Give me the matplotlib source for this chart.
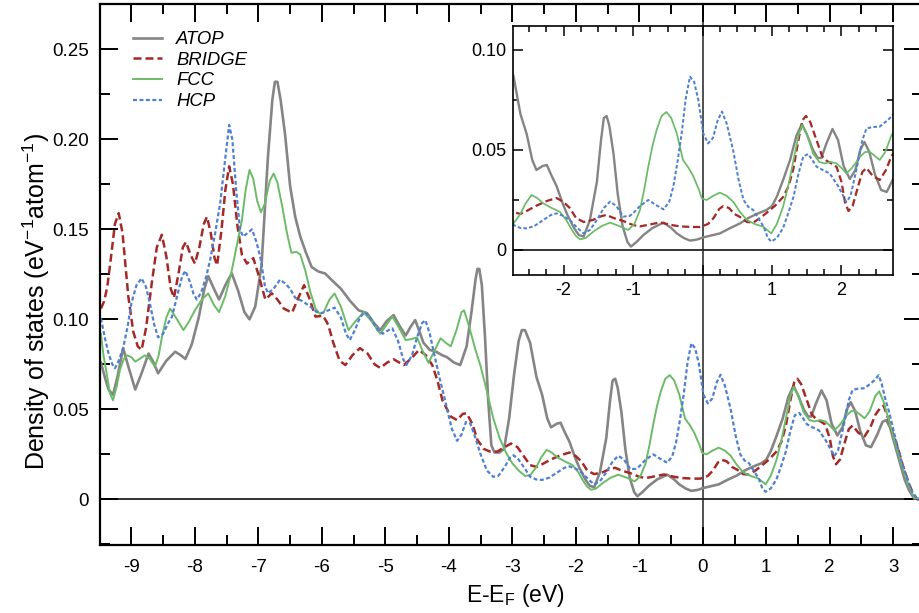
import matplotlib
matplotlib.use("Agg")
import matplotlib.pyplot as plt
from matplotlib.ticker import MultipleLocator, FixedLocator

plt.rcParams['font.family'] = ['Liberation Sans', 'DejaVu Sans']
plt.rcParams['axes.unicode_minus'] = False

# ---- data (energy in eV, DOS in 1/(eV atom)) ----
atop_e = [-9.48, -9.42, -9.36, -9.29, -9.22, -9.13, -9.05, -8.94, -8.84, -8.73, -8.65, -8.58,
          -8.45, -8.31, -8.22, -8.15, -8.05, -7.94, -7.85, -7.79, -7.70, -7.62, -7.52, -7.42,
          -7.32, -7.22, -7.14, -7.05, -6.95, -6.85, -6.78, -6.74, -6.70, -6.65, -6.58, -6.50, -6.42,
          -6.34, -6.25, -6.16, -6.05, -5.95, -5.82, -5.70, -5.55, -5.42, -5.29, -5.18, -5.08,
          -4.98, -4.87, -4.77, -4.68, -4.60, -4.53, -4.46, -4.40, -4.30, -4.20, -4.10, -4.03,
          -3.92, -3.82, -3.72, -3.64, -3.58, -3.55, -3.52, -3.48, -3.43, -3.38, -3.33, -3.28, -3.20,
          -3.13, -3.05, -2.97, -2.90, -2.85, -2.80, -2.72, -2.62, -2.53, -2.45, -2.39, -2.30, -2.24,
          -2.17, -2.10, -2.02, -1.95, -1.85, -1.78, -1.71, -1.62, -1.52, -1.46, -1.42, -1.38, -1.34,
          -1.28, -1.22, -1.15, -1.08, -1.03, -0.95, -0.85, -0.72, -0.56, -0.45, -0.37, -0.27,
          -0.18, -0.08, 0.01, 0.12, 0.25, 0.40, 0.54, 0.66, 0.78, 0.92, 1.00, 1.07,
          1.16, 1.26, 1.35, 1.43, 1.50, 1.59, 1.66, 1.71, 1.78, 1.87, 1.95, 2.03,
          2.12, 2.20, 2.27, 2.33, 2.40, 2.48, 2.57, 2.65, 2.75, 2.83, 2.89, 2.95,
          3.02, 3.10, 3.18, 3.25, 3.33, 3.45]
atop_dos = [0.076, 0.068, 0.061, 0.058, 0.068, 0.084, 0.074, 0.061, 0.070, 0.081, 0.076, 0.070,
            0.077, 0.082, 0.080, 0.078, 0.086, 0.101, 0.117, 0.124, 0.117, 0.111, 0.119, 0.1256,
            0.116, 0.104, 0.100, 0.107, 0.130, 0.190, 0.222, 0.232, 0.232, 0.222, 0.203, 0.174, 0.157,
            0.146, 0.137, 0.129, 0.1265, 0.1255, 0.121, 0.117, 0.110, 0.105, 0.1035, 0.098, 0.094,
            0.099, 0.1024, 0.096, 0.091, 0.096, 0.0996, 0.093, 0.087, 0.083, 0.082, 0.080, 0.079,
            0.076, 0.0746, 0.085, 0.105, 0.122, 0.128, 0.128, 0.119, 0.090, 0.055, 0.030, 0.026, 0.026,
            0.028, 0.045, 0.070, 0.088, 0.094, 0.094, 0.087, 0.068, 0.058, 0.045, 0.040, 0.042, 0.0425,
            0.037, 0.032, 0.024, 0.018, 0.011, 0.0075, 0.0067, 0.015, 0.034, 0.055, 0.066, 0.067, 0.062,
            0.048, 0.028, 0.012, 0.004, 0.0017, 0.004, 0.0075, 0.011, 0.0137, 0.011, 0.0083, 0.006,
            0.0047, 0.0052, 0.0063, 0.0072, 0.0083, 0.011, 0.0133, 0.016, 0.018, 0.020, 0.022, 0.0267,
            0.035, 0.045, 0.057, 0.063, 0.058, 0.050, 0.046, 0.046, 0.053, 0.0605, 0.055, 0.042,
            0.0355, 0.040, 0.050, 0.054, 0.049, 0.038, 0.030, 0.029, 0.036, 0.043, 0.044, 0.040,
            0.031, 0.021, 0.011, 0.005, 0.0005, 0.0]

bridge_e = [-9.48, -9.43, -9.38, -9.32, -9.26, -9.20, -9.14, -9.05, -8.97, -8.90, -8.84, -8.77,
            -8.68, -8.60, -8.52, -8.45, -8.38, -8.33, -8.26, -8.19, -8.14, -8.07, -8.00, -7.93,
            -7.86, -7.81, -7.75, -7.69, -7.65, -7.58, -7.52, -7.46, -7.40, -7.33, -7.26, -7.18,
            -7.08, -7.00, -6.89, -6.79, -6.70, -6.60, -6.47, -6.37, -6.28, -6.20, -6.10, -5.98,
            -5.90, -5.82, -5.72, -5.63, -5.52, -5.40, -5.28, -5.17, -5.08, -4.97, -4.87, -4.78,
            -4.71, -4.60, -4.47, -4.36, -4.26, -4.18, -4.10, -3.97, -3.87, -3.78, -3.72, -3.63,
            -3.55, -3.45, -3.35, -3.24, -3.12, -3.02, -2.92, -2.82, -2.72, -2.62, -2.53, -2.40,
            -2.24, -2.10, -2.00, -1.91, -1.82, -1.71, -1.58, -1.45, -1.38, -1.28, -1.14, -1.00,
            -0.90, -0.75, -0.61, -0.45, -0.32, -0.15, -0.04, 0.08, 0.16, 0.24, 0.30, 0.38,
            0.46, 0.54, 0.64, 0.73, 0.83, 0.92, 1.04, 1.16, 1.24, 1.31, 1.38, 1.44,
            1.49, 1.55, 1.64, 1.72, 1.79, 1.87, 1.93, 2.00, 2.05, 2.10, 2.16, 2.24,
            2.30, 2.36, 2.45, 2.55, 2.64, 2.72, 2.80, 2.85, 2.92, 3.00, 3.07, 3.15,
            3.23, 3.30, 3.38, 3.45]
bridge_dos = [0.106, 0.110, 0.118, 0.135, 0.153, 0.159, 0.148, 0.113, 0.093, 0.085, 0.083, 0.095,
              0.120, 0.140, 0.147, 0.135, 0.117, 0.112, 0.125, 0.140, 0.143, 0.136, 0.131, 0.140,
              0.153, 0.157, 0.148, 0.134, 0.130, 0.150, 0.172, 0.185, 0.175, 0.152, 0.136, 0.131,
              0.134, 0.125, 0.111, 0.1145, 0.111, 0.106, 0.1037, 0.112, 0.119, 0.112, 0.1015, 0.102,
              0.097, 0.087, 0.077, 0.0746, 0.080, 0.084, 0.081, 0.075, 0.073, 0.076, 0.0778, 0.076,
              0.0746, 0.078, 0.083, 0.080, 0.0745, 0.066, 0.055, 0.046, 0.044, 0.0475, 0.0478, 0.042,
              0.033, 0.028, 0.0265, 0.0265, 0.029, 0.031, 0.029, 0.024, 0.019, 0.018, 0.0195, 0.022,
              0.0245, 0.026, 0.024, 0.021, 0.016, 0.014, 0.015, 0.017, 0.0175, 0.016, 0.0145, 0.0125,
              0.0118, 0.0128, 0.0138, 0.0125, 0.0118, 0.0115, 0.0115, 0.013, 0.016, 0.0205, 0.022, 0.021,
              0.018, 0.0165, 0.014, 0.0137, 0.016, 0.0185, 0.022, 0.0265, 0.032, 0.041, 0.055, 0.065,
              0.067, 0.064, 0.055, 0.047, 0.0445, 0.043, 0.0415, 0.034, 0.024, 0.0195, 0.022, 0.032,
              0.039, 0.041, 0.037, 0.035, 0.040, 0.047, 0.051, 0.052, 0.045, 0.036, 0.029, 0.019,
              0.0105, 0.004, 0.0, 0.0]

fcc_e = [-9.48, -9.44, -9.39, -9.34, -9.29, -9.23, -9.18, -9.12, -9.07, -9.00, -8.94, -8.87,
         -8.79, -8.71, -8.63, -8.57, -8.52, -8.45, -8.39, -8.30, -8.18, -8.09, -8.00, -7.89,
         -7.79, -7.70, -7.62, -7.52, -7.42, -7.34, -7.26, -7.20, -7.14, -7.08, -7.02, -6.96,
         -6.90, -6.82, -6.76, -6.70, -6.62, -6.55, -6.48, -6.40, -6.34, -6.26, -6.18, -6.10,
         -6.03, -5.97, -5.88, -5.80, -5.70, -5.58, -5.47, -5.34, -5.22, -5.08, -4.98, -4.89,
         -4.78, -4.68, -4.59, -4.50, -4.42, -4.32, -4.22, -4.13, -4.05, -3.97, -3.88, -3.80,
         -3.76, -3.68, -3.58, -3.50, -3.40, -3.30, -3.20, -3.10, -3.00, -2.90, -2.80, -2.72,
         -2.62, -2.55, -2.46, -2.38, -2.29, -2.17, -2.05, -1.96, -1.88, -1.82, -1.76, -1.68,
         -1.57, -1.45, -1.33, -1.20, -1.07, -0.98, -0.90, -0.84, -0.78, -0.72, -0.66, -0.59,
         -0.52, -0.45, -0.37, -0.28, -0.20, -0.13, -0.05, -0.01, 0.06, 0.15, 0.25, 0.35,
         0.44, 0.54, 0.64, 0.75, 0.87, 0.99, 1.07, 1.16, 1.24, 1.31, 1.38, 1.43,
         1.50, 1.59, 1.68, 1.76, 1.85, 1.93, 2.00, 2.07, 2.15, 2.27, 2.34, 2.41,
         2.48, 2.55, 2.63, 2.72, 2.78, 2.85, 2.93, 3.02, 3.10, 3.18, 3.25, 3.33, 3.45]
fcc_dos = [0.092, 0.080, 0.070, 0.059, 0.055, 0.063, 0.072, 0.078, 0.080, 0.079, 0.0765, 0.078,
           0.080, 0.078, 0.0737, 0.080, 0.090, 0.101, 0.106, 0.101, 0.094, 0.099, 0.105, 0.111,
           0.1144, 0.108, 0.104, 0.113, 0.127, 0.141, 0.155, 0.172, 0.183, 0.178, 0.166, 0.1595,
           0.164, 0.177, 0.181, 0.176, 0.162, 0.148, 0.137, 0.1375, 0.136, 0.127, 0.115, 0.106,
           0.103, 0.104, 0.111, 0.1144, 0.107, 0.094, 0.099, 0.104, 0.099, 0.092, 0.097, 0.1015,
           0.095, 0.0885, 0.089, 0.090, 0.083, 0.0758, 0.083, 0.0895, 0.087, 0.085, 0.094, 0.104,
           0.105, 0.096, 0.083, 0.074, 0.060, 0.045, 0.034, 0.026, 0.020, 0.016, 0.013, 0.0133,
           0.018, 0.023, 0.0275, 0.026, 0.0233, 0.021, 0.019, 0.015, 0.010, 0.007, 0.0053, 0.006,
           0.0092, 0.012, 0.0137, 0.012, 0.010, 0.013, 0.020, 0.030, 0.0417, 0.052, 0.060, 0.067,
           0.069, 0.066, 0.0583, 0.045, 0.041, 0.0367, 0.030, 0.0258, 0.025, 0.027, 0.0287, 0.027,
           0.0242, 0.019, 0.015, 0.013, 0.0117, 0.0083, 0.013, 0.0217, 0.033, 0.045, 0.057, 0.0625,
           0.058, 0.0483, 0.044, 0.0433, 0.044, 0.0433, 0.041, 0.0383, 0.041, 0.0467, 0.049, 0.049,
           0.047, 0.045, 0.049, 0.0575, 0.060, 0.054, 0.044, 0.033, 0.023, 0.0144, 0.007, 0.001, 0.0]

hcp_e = [-9.48, -9.42, -9.36, -9.30, -9.26, -9.20, -9.13, -9.06, -9.00, -8.92, -8.84, -8.77,
         -8.71, -8.64, -8.58, -8.50, -8.42, -8.36, -8.28, -8.20, -8.15, -8.08, -8.02, -7.97,
         -7.90, -7.82, -7.76, -7.68, -7.60, -7.52, -7.46, -7.41, -7.35, -7.29, -7.24, -7.17,
         -7.10, -7.03, -6.96, -6.90, -6.85, -6.76, -6.66, -6.58, -6.50, -6.42, -6.30, -6.18,
         -6.08, -6.00, -5.90, -5.80, -5.70, -5.62, -5.56, -5.48, -5.40, -5.33, -5.24, -5.12,
         -5.04, -4.95, -4.89, -4.80, -4.72, -4.67, -4.58, -4.50, -4.42, -4.37, -4.30, -4.22,
         -4.15, -4.08, -4.02, -3.95, -3.87, -3.80, -3.73, -3.66, -3.58, -3.50, -3.40, -3.30,
         -3.22, -3.12, -3.04, -2.98, -2.90, -2.80, -2.72, -2.62, -2.53, -2.42, -2.29, -2.18,
         -2.10, -2.00, -1.91, -1.80, -1.71, -1.62, -1.52, -1.42, -1.33, -1.24, -1.14, -1.05,
         -1.00, -0.90, -0.78, -0.67, -0.56, -0.48, -0.42, -0.36, -0.30, -0.24, -0.18, -0.12,
         -0.06, 0.01, 0.08, 0.15, 0.22, 0.28, 0.35, 0.44, 0.52, 0.59, 0.66, 0.73,
         0.80, 0.88, 0.94, 0.99, 1.07, 1.16, 1.24, 1.31, 1.38, 1.45, 1.52, 1.58,
         1.64, 1.73, 1.83, 1.95, 2.07, 2.13, 2.22, 2.30, 2.36, 2.45, 2.55, 2.65,
         2.72, 2.77, 2.82, 2.88, 2.94, 3.00, 3.07, 3.15, 3.23, 3.30, 3.38, 3.45]
hcp_dos = [0.1005, 0.090, 0.081, 0.075, 0.0728, 0.077, 0.084, 0.096, 0.109, 0.119, 0.1228, 0.118,
           0.109, 0.097, 0.090, 0.092, 0.098, 0.1015, 0.113, 0.124, 0.127, 0.121, 0.114, 0.111,
           0.115, 0.124, 0.133, 0.148, 0.165, 0.190, 0.208, 0.200, 0.172, 0.150, 0.146, 0.148,
           0.150, 0.143, 0.133, 0.119, 0.1145, 0.117, 0.122, 0.120, 0.117, 0.112, 0.110, 0.107,
           0.104, 0.1035, 0.105, 0.1065, 0.101, 0.092, 0.0885, 0.094, 0.101, 0.104, 0.101, 0.094,
           0.092, 0.094, 0.095, 0.088, 0.078, 0.0746, 0.080, 0.090, 0.098, 0.0995, 0.092, 0.079,
           0.068, 0.058, 0.049, 0.039, 0.0325, 0.036, 0.043, 0.042, 0.034, 0.025, 0.016, 0.0125,
           0.013, 0.018, 0.023, 0.0245, 0.022, 0.017, 0.0125, 0.011, 0.0108, 0.012, 0.015, 0.0175,
           0.0183, 0.017, 0.015, 0.011, 0.0083, 0.010, 0.015, 0.021, 0.0242, 0.022, 0.0167, 0.017,
           0.0183, 0.022, 0.025, 0.0225, 0.0203, 0.024, 0.0317, 0.044, 0.0583, 0.076, 0.0867, 0.084,
           0.075, 0.0583, 0.0533, 0.056, 0.065, 0.0692, 0.063, 0.050, 0.035, 0.025, 0.0215, 0.020,
           0.016, 0.0117, 0.006, 0.0042, 0.006, 0.011, 0.019, 0.0267, 0.038, 0.0467, 0.048, 0.045,
           0.0417, 0.040, 0.0383, 0.032, 0.024, 0.027, 0.041, 0.055, 0.0608, 0.0615, 0.0617, 0.0645,
           0.0667, 0.069, 0.064, 0.055, 0.048, 0.039, 0.029, 0.019, 0.0107, 0.004, 0.0, 0.0]

labels = ['ATOP', 'BRIDGE', 'FCC', 'HCP']
xticks_main = list(range(-9, 4))
yticks_main = [0, 0.05, 0.10, 0.15, 0.20, 0.25]
ytick_labels_main = ['0', '0.05', '0.10', '0.15', '0.20', '0.25']
xticks_inset = [-2, -1, 0, 1, 2]
xtick_labels_inset = ['-2', '-1', '', '1', '2']
yticks_inset = [0, 0.05, 0.10]
ytick_labels_inset = ['0', '0.05', '0.10']

series = [(atop_e, atop_dos), (bridge_e, bridge_dos), (fcc_e, fcc_dos), (hcp_e, hcp_dos)]
styles = [dict(color='#858585', lw=1.9, ls='-'),
          dict(color='#a42a28', lw=1.8, ls=(0, (3.2, 1.6))),
          dict(color='#6cbb68', lw=1.4, ls='-'),
          dict(color='#4f80d2', lw=1.6, ls=(0, (1.8, 1.1)))]


def draw(ax, lw_scale=1.0):
    for (e, d), lab, st in zip(series, labels, styles):
        ax.plot(e, d, color=st['color'], lw=st['lw'] * lw_scale, ls=st['ls'], label=lab,
                solid_joinstyle='round', dash_joinstyle='round')
    ax.axhline(0, color='#222222', lw=1.3, zorder=1)
    ax.axvline(0, color='#222222', lw=1.1, zorder=1)


fig = plt.figure(figsize=(9.19, 6.13), dpi=100)
ax = fig.add_axes([0.1088, 0.1109, 0.8945, 0.8825])
draw(ax)
ax.set_xlim(-9.495, 3.454)
ax.set_ylim(-0.0254, 0.2752)
ax.xaxis.set_major_locator(FixedLocator(xticks_main))
ax.xaxis.set_minor_locator(MultipleLocator(0.5))
ax.set_yticks(yticks_main)
ax.set_yticklabels(ytick_labels_main)
ax.yaxis.set_minor_locator(MultipleLocator(0.025))
ax.tick_params(which='both', direction='in', top=True, right=True, width=1.4, labelsize=13.5)
ax.tick_params(which='major', length=13, pad=8)
ax.tick_params(axis='x', which='major', pad=10)
ax.tick_params(which='minor', length=7)
for s in ax.spines.values():
    s.set_linewidth(1.6)
ax.set_xlabel('E-E$_\\mathregular{F}$ (eV)', fontsize=16.5)
ax.set_ylabel('Density of states (eV$^\\mathregular{-1}$atom$^\\mathregular{-1}$)', fontsize=18)
ax.xaxis.set_label_coords(0.505, -0.068)
ax.yaxis.set_label_coords(-0.058, 0.45)
leg = ax.legend(loc='upper left', bbox_to_anchor=(0.040, 0.950), frameon=False,
                borderpad=0, borderaxespad=0, handlelength=1.6, handletextpad=0.75,
                labelspacing=0.2, prop={'style': 'italic', 'size': 13.3})

# inset
axi = fig.add_axes([0.5582, 0.5514, 0.4135, 0.4062])
draw(axi, 0.9)
axi.set_xlim(-2.727, 2.741)
axi.set_ylim(-0.0125, 0.112)
axi.set_xticks(xticks_inset)
axi.set_xticklabels(xtick_labels_inset)
axi.xaxis.set_minor_locator(MultipleLocator(0.25))
axi.set_yticks(yticks_inset)
axi.set_yticklabels(ytick_labels_inset)
axi.yaxis.set_minor_locator(MultipleLocator(0.025))
axi.tick_params(which='both', direction='in', top=True, right=True, width=1.1, labelsize=13)
axi.tick_params(which='major', length=7, pad=5)
axi.tick_params(which='minor', length=4)
for s in axi.spines.values():
    s.set_linewidth(1.2)

fig.savefig('out.png', dpi=100)
